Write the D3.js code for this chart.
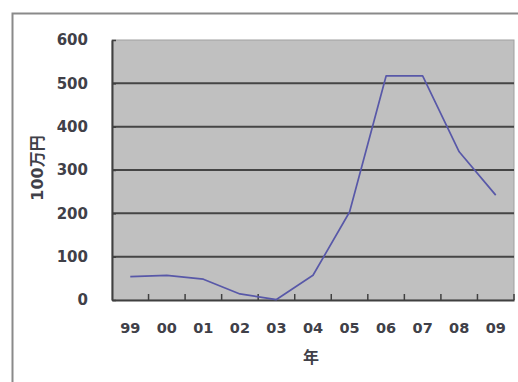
<!DOCTYPE html>
<html>
<head>
<meta charset="utf-8">
<script src="https://cdn.jsdelivr.net/npm/d3@7/dist/d3.min.js"></script>
<style>
  html, body { margin: 0; padding: 0; background: #fff; }
  svg { display: block; }
  text { font-family: "DejaVu Sans", "Noto Sans CJK JP", sans-serif; font-weight: bold; fill: #404048; }
</style>
</head>
<body>
<script>
// Years (two-digit) and amounts in units of 1,000,000 yen
const years = ["99", "00", "01", "02", "03", "04", "05", "06", "07", "08", "09"];
const amounts = [54, 57, 48, 14, 1, 57, 203, 517, 517, 342, 242];
const yTicks = [0, 100, 200, 300, 400, 500, 600];
const yTitle = "100万円";
const xTitle = "年";

const W = 518, H = 382;
const plot = { left: 112, top: 40, right: 514, bottom: 300 };

const svg = d3.select("body").append("svg").attr("width", W).attr("height", H);

// Outer chart frame (top and left edges visible)
svg.append("path")
  .attr("d", `M12.5,${H} V13.5 H${W}`)
  .attr("fill", "none").attr("stroke", "#8a8a8a").attr("stroke-width", 2);

const x = d3.scaleBand().domain(years).range([plot.left, plot.right]).padding(0);
const y = d3.scaleLinear().domain([0, 600]).range([plot.bottom, plot.top]);

// Plot background
svg.append("rect")
  .attr("x", plot.left).attr("y", plot.top)
  .attr("width", plot.right - plot.left).attr("height", plot.bottom - plot.top)
  .attr("fill", "#c0c0c0").attr("stroke", "#a0a0a0").attr("stroke-width", 1);

// Horizontal gridlines
svg.append("g").selectAll("line")
  .data(yTicks.filter(d => d > 0 && d < 600))
  .join("line")
  .attr("x1", plot.left).attr("x2", plot.right)
  .attr("y1", d => y(d)).attr("y2", d => y(d))
  .attr("stroke", "#454545").attr("stroke-width", 2);

// Y axis
const yAxis = svg.append("g")
  .attr("transform", `translate(${plot.left},0)`)
  .call(d3.axisLeft(y).tickValues(yTicks).tickSizeInner(-4).tickSizeOuter(0).tickPadding(24));
yAxis.select(".domain").attr("stroke", "#404040").attr("stroke-width", 2);
yAxis.selectAll(".tick line").attr("stroke", "#404040").attr("stroke-width", 1.5);
yAxis.selectAll(".tick text").attr("font-size", 15).attr("font-family", null).attr("fill", null);

// X axis with tick marks at category boundaries
const xAxis = svg.append("g")
  .attr("transform", `translate(0,${plot.bottom})`)
  .call(d3.axisBottom(x).tickSize(0).tickPadding(23));
xAxis.select(".domain").attr("stroke", "#404040").attr("stroke-width", 2);
xAxis.selectAll(".tick text").attr("font-size", 14.5).attr("font-family", null).attr("fill", null);

svg.append("g").selectAll("line")
  .data(years)
  .join("line")
  .attr("x1", d => x(d) + x.bandwidth())
  .attr("x2", d => x(d) + x.bandwidth())
  .attr("y1", plot.bottom).attr("y2", plot.bottom - 6)
  .attr("stroke", "#404040").attr("stroke-width", 1.5);

// Axis titles
svg.append("text")
  .attr("transform", `translate(37,168) rotate(-90)`)
  .attr("text-anchor", "middle").attr("dominant-baseline", "central")
  .attr("font-size", 16)
  .text(yTitle);

svg.append("text")
  .attr("x", 311).attr("y", 357)
  .attr("text-anchor", "middle").attr("dominant-baseline", "central")
  .attr("font-size", 16)
  .text(xTitle);

// Data line
const line = d3.line()
  .x(d => x(d.year) + x.bandwidth() / 2)
  .y(d => y(d.value));

svg.append("path")
  .datum(years.map((yr, i) => ({ year: yr, value: amounts[i] })))
  .attr("d", line)
  .attr("fill", "none")
  .attr("stroke", "#5858a8")
  .attr("stroke-width", 1.7)
  .attr("stroke-linejoin", "round");
</script>
</body>
</html>
